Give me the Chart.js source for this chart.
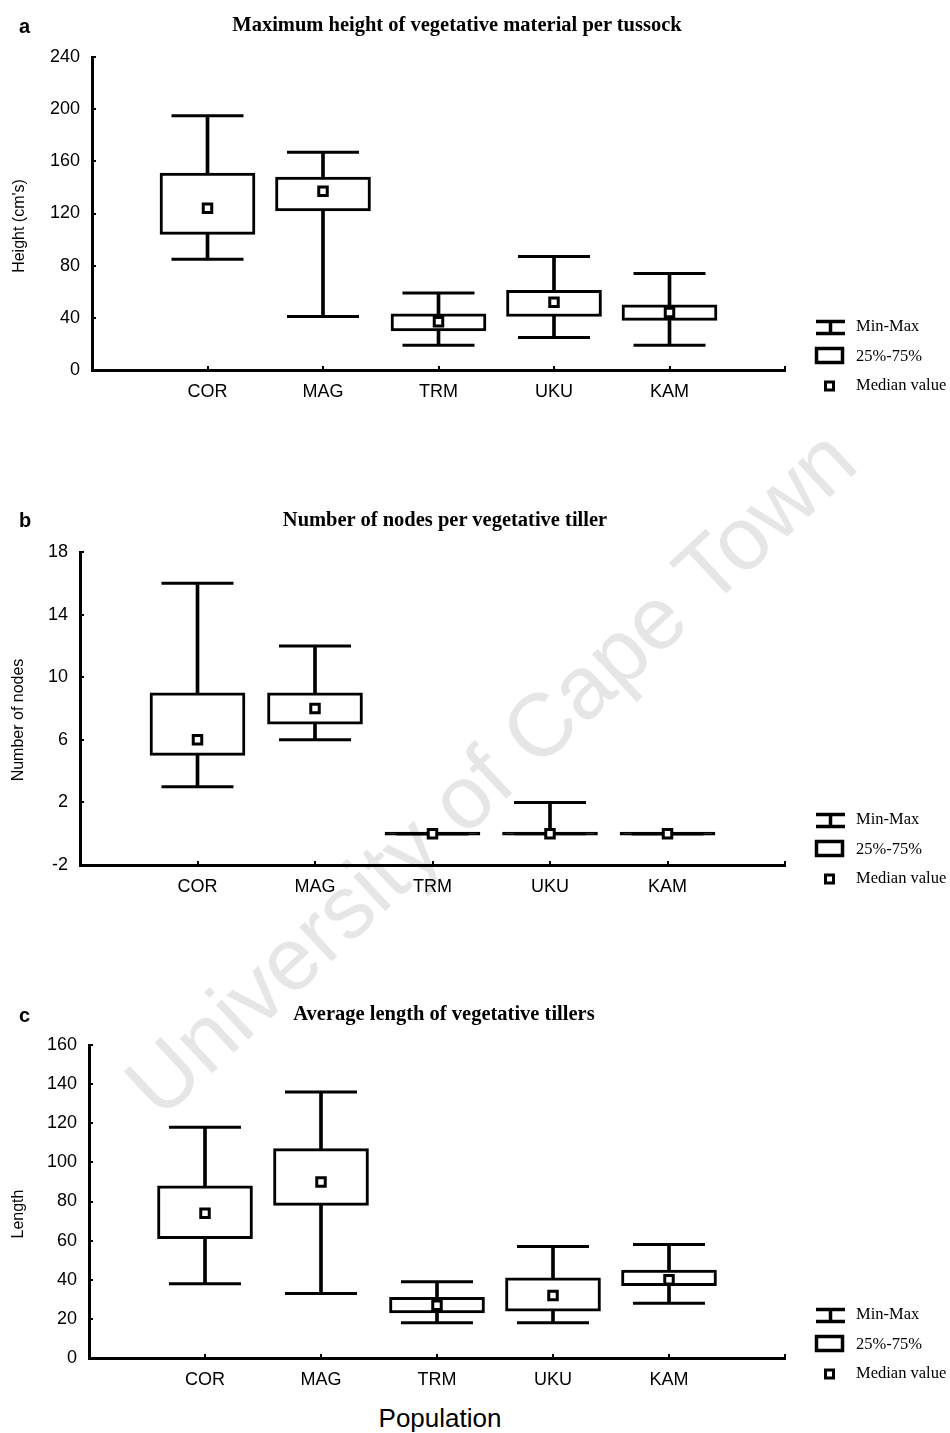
<!DOCTYPE html>
<html>
<head>
<meta charset="utf-8">
<title>Vegetative traits by population</title>
<script src="https://cdn.jsdelivr.net/npm/chart.js@4.4.1/dist/chart.umd.min.js"></script>
<style>
  html, body { margin: 0; padding: 0; background: #fff; }
  #page { position: relative; width: 950px; height: 1433px; overflow: hidden; background: #fff;
          font-family: "Liberation Sans", Arial, sans-serif; color: #000; }
  .watermark { position: absolute; left: 490px; top: 772px; white-space: nowrap;
               font-family: "Liberation Sans", Arial, sans-serif; font-size: 89px; color: #e6e6e6;
               transform: translate(-50%, -50%) rotate(-43deg); transform-origin: 50% 50%; }
  canvas { position: absolute; left: 0; }
  .letter { position: absolute; font-weight: bold; font-size: 20px; line-height: 1; }
  .title { position: absolute; font-family: "Liberation Serif", "Times New Roman", serif; font-weight: bold;
           font-size: 20.5px; line-height: 1; white-space: nowrap; transform: translateX(-50%); }
  .ytitle { position: absolute; font-size: 16px; line-height: 1; white-space: nowrap;
            transform: translate(-50%, -50%) rotate(-90deg); }
  .xtitle { position: absolute; font-size: 26px; line-height: 1; white-space: nowrap; transform: translateX(-50%); }
  .legend { position: absolute; left: 813px; width: 137px; height: 80px; }
  .legend svg { position: absolute; left: 0; top: 0; }
  .legend span { position: absolute; left: 43px; font-family: "Liberation Serif", "Times New Roman", serif;
                 font-size: 16.5px; line-height: 1; white-space: nowrap; transform: translateY(-50%); }
</style>
</head>
<body>
<div id="page">
  <div class="watermark">University of Cape Town</div>

  <canvas id="chartHeight" width="950" height="420" style="top:0px"></canvas>
  <canvas id="chartNodes" width="950" height="440" style="top:470px"></canvas>
  <canvas id="chartLength" width="950" height="440" style="top:960px"></canvas>

  <div class="letter" style="left:19px; top:16px">a</div>
  <div class="title" style="left:457px; top:14px">Maximum height of vegetative material per tussock</div>
  <div class="ytitle" style="left:19px; top:226px">Height (cm's)</div>

  <div class="letter" style="left:19px; top:510px">b</div>
  <div class="title" style="left:445px; top:509px">Number of nodes per vegetative tiller</div>
  <div class="ytitle" style="left:18px; top:720px">Number of nodes</div>

  <div class="letter" style="left:19px; top:1005px">c</div>
  <div class="title" style="left:444px; top:1003px">Average length of vegetative tillers</div>
  <div class="ytitle" style="left:18px; top:1214px">Length</div>

  <div class="xtitle" style="left:440px; top:1405px">Population</div>
</div>

<script>
// Populations along the x axis
const populations = ['COR', 'MAG', 'TRM', 'UKU', 'KAM'];

// Maximum height of vegetative material per tussock (cm)
const heightMin    = [85, 41, 19, 25, 19];
const heightQ1     = [104, 122, 30, 41, 38];
const heightMedian = [124, 137, 37, 52, 44];
const heightQ3     = [151, 148, 43, 61, 50];
const heightMax    = [195, 167, 59, 87, 74];
const heightAxis   = [0, 240, 40];   // min, max, step

// Number of nodes per vegetative tiller
const nodesMin    = [3, 6, 0, 0, 0];
const nodesQ1     = [5, 7, 0, 0, 0];
const nodesMedian = [6, 8, 0, 0, 0];
const nodesQ3     = [9, 9, 0, 0, 0];
const nodesMax    = [16, 12, 0, 2, 0];
const nodesAxis   = [-2, 18, 4];

// Average length of vegetative tillers
const lengthMin    = [38, 33, 18, 18, 28];
const lengthQ1     = [61, 78, 23, 24, 37];
const lengthMedian = [74, 90, 27, 32, 40];
const lengthQ3     = [88, 107, 31, 41, 45];
const lengthMax    = [118, 136, 39, 57, 58];
const lengthAxis   = [0, 160, 20];

// Legend entries shared by all three panels
const legendLabels = ['Min-Max', '25%-75%', 'Median value'];

const SANS = '"Liberation Sans", Arial, sans-serif';
const INK = '#000';

// Empty slots either side of the populations leave a gap at both ends of the axis
const padded = values => [null, ...values, null];

// A box whose quartiles coincide collapses to a solid line
const boxFill = ctx => (Array.isArray(ctx.raw) && ctx.raw[0] === ctx.raw[1]) ? INK : '#fff';

function boxPlot(canvasId, stats, axis, frame) {
  const [yMin, yMax, yStep] = axis;
  return new Chart(document.getElementById(canvasId), {
    type: 'bar',
    data: {
      labels: ['', ...populations, ''],
      datasets: [
        { // whisker from minimum to maximum
          type: 'bar', data: padded(stats.min.map((v, i) => [v, stats.max[i]])),
          backgroundColor: INK, borderWidth: 0, barThickness: 3, grouped: false, order: 3
        },
        { // interquartile box
          type: 'bar', data: padded(stats.q1.map((v, i) => [v, stats.q3[i]])),
          backgroundColor: boxFill, borderColor: INK, borderWidth: 3, borderSkipped: false,
          barThickness: 95, minBarLength: 3, grouped: false, order: 2
        },
        { // maximum cap
          type: 'line', data: padded(stats.max), showLine: false,
          pointStyle: 'line', pointRadius: 36, pointBorderWidth: 3, pointBorderColor: INK, order: 1
        },
        { // minimum cap
          type: 'line', data: padded(stats.min), showLine: false,
          pointStyle: 'line', pointRadius: 36, pointBorderWidth: 3, pointBorderColor: INK, order: 1
        },
        { // median marker
          type: 'line', data: padded(stats.median), showLine: false,
          pointStyle: 'rect', pointRadius: 6, pointBackgroundColor: '#fff',
          pointBorderColor: INK, pointBorderWidth: 3, order: 0
        }
      ]
    },
    options: {
      responsive: false,
      animation: false,
      devicePixelRatio: 1,
      events: [],
      layout: { padding: { top: frame.top, right: 950 - 785, left: 0, bottom: 0 } },
      plugins: { legend: { display: false }, tooltip: { enabled: false }, title: { display: false } },
      scales: {
        x: {
          offset: false,
          grid: { offset: false, drawOnChartArea: false, tickLength: -4, color: INK, lineWidth: 2 },
          border: { color: INK, width: 3 },
          ticks: { color: INK, font: { family: SANS, size: 18 }, padding: 15, autoSkip: false, maxRotation: 0 },
          afterFit: sc => { sc.height = frame.height - frame.axis; }
        },
        y: {
          min: yMin, max: yMax,
          grid: { drawOnChartArea: false, tickLength: -4, color: INK, lineWidth: 2 },
          border: { color: INK, width: 3 },
          ticks: { stepSize: yStep, color: INK, font: { family: SANS, size: 18 }, padding: 16 },
          afterFit: sc => { sc.width = frame.left; }
        }
      }
    }
  });
}

// Legend block: min-max bracket, box and median marker with their labels
function addLegend(top) {
  const el = document.createElement('div');
  el.className = 'legend';
  el.style.top = top + 'px';
  el.innerHTML =
    '<svg width="40" height="80" viewBox="0 0 40 80">' +
      '<path d="M3 5.5 H32 M3 17.5 H32 M17.5 5.5 V17.5" stroke="#000" stroke-width="3.5" fill="none"/>' +
      '<rect x="3.5" y="32.5" width="26" height="14" stroke="#000" stroke-width="3.5" fill="#fff"/>' +
      '<rect x="12.5" y="66" width="8" height="8" stroke="#000" stroke-width="3" fill="#fff"/>' +
    '</svg>' +
    legendLabels.map((t, i) => '<span style="top:' + [10, 40, 69][i] + 'px">' + t + '</span>').join('');
  document.getElementById('page').appendChild(el);
}

boxPlot('chartHeight',
  { min: heightMin, q1: heightQ1, median: heightMedian, q3: heightQ3, max: heightMax },
  heightAxis, { top: 57, axis: 370, left: 92, height: 420 });

boxPlot('chartNodes',
  { min: nodesMin, q1: nodesQ1, median: nodesMedian, q3: nodesQ3, max: nodesMax },
  nodesAxis, { top: 82, axis: 395, left: 80, height: 440 });

boxPlot('chartLength',
  { min: lengthMin, q1: lengthQ1, median: lengthMedian, q3: lengthQ3, max: lengthMax },
  lengthAxis, { top: 85, axis: 398, left: 89, height: 440 });

addLegend(316);
addLegend(809);
addLegend(1304);
</script>
</body>
</html>
